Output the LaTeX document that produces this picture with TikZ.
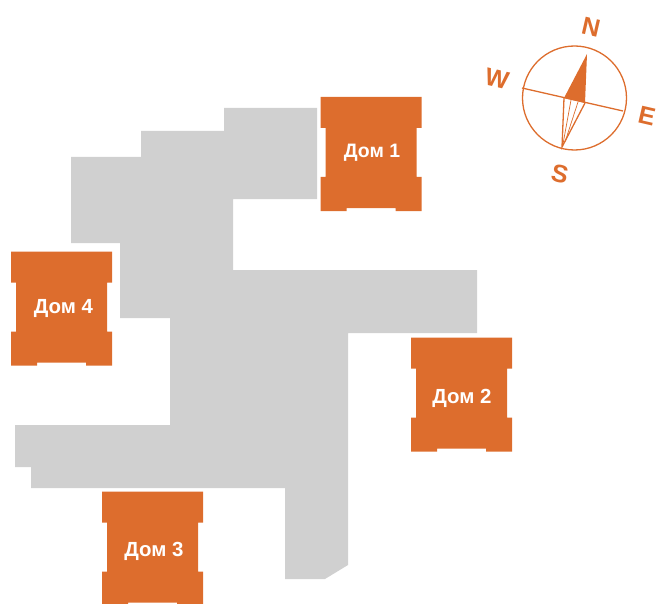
\documentclass[tikz,border=0pt]{standalone}
\usepackage{fontspec}
\setmainfont{Liberation Sans}
\definecolor{brick}{HTML}{DD6D2D}
\definecolor{yard}{HTML}{D0D0D0}
\tikzset{
  x=1bp,y=-1bp,
  bldg/.style={fill=brick,draw=none},
  housetext/.style={text=white,font=\fontsize{20.5}{22}\selectfont\bfseries,inner sep=0pt,anchor=center},
  dir/.style={text=brick,font=\fontsize{25}{27}\selectfont\bfseries,inner sep=0pt,anchor=center,rotate=-13},
  rose/.style={draw=brick,line width=1.3bp},
  fine/.style={draw=brick,line width=0.7bp}
}
\newcommand{\house}[2]{% left, top
  \begin{scope}[shift={(#1,#2)}]
    \fill[bldg] (0,0) -- (101,0) -- (101,31) -- (96,31) -- (96,80) -- (101,80) -- (101,114)
      -- (75,114) -- (75,111) -- (26,111) -- (26,114) -- (0,114) -- (0,80) -- (5,80) -- (5,31) -- (0,31) -- cycle;
  \end{scope}
}
\begin{document}
\begin{tikzpicture}
\useasboundingbox (0,0) rectangle (657,604);
\begin{scope}
\clip (0,0) rectangle (657,604);
\fill[yard] (224,108) -- (317,108) -- (317,199) -- (233,199) -- (233,270) -- (477,270) -- (477,333)
  -- (348,333) -- (348,565) -- (325,579) -- (285,579) -- (285,488) -- (31,488) -- (31,467) -- (15,467)
  -- (15,425) -- (170,425) -- (170,318) -- (120,318) -- (120,243) -- (71,243) -- (71,157) -- (141,157)
  -- (141,131) -- (224,131) -- cycle;
\house{320.5}{97}
\house{411}{337.5}
\house{102}{491.5}
\house{11}{251.5}
\end{scope}
\node[housetext,font=\fontsize{19.5}{21}\selectfont\bfseries] (dom1) at (372,153) {Дом 1};
\node[housetext] (dom2) at (462,398) {Дом 2};
\node[housetext] (dom3) at (154,551) {Дом 3};
\node[housetext] (dom4) at (63.5,309) {Дом 4};
% compass
\coordinate (c) at (574.5,98);
\coordinate (wl) at (522,88);
\coordinate (el) at (623,111);
\coordinate (ntip) at (587,54);
\coordinate (stip) at (562,147);
\coordinate (bl) at (564,98);
\coordinate (br) at (585,103);
\draw[rose] (c) circle[radius=52];
\draw[rose] (wl) -- (el);
\fill[brick] (ntip) -- (bl) -- (br) -- cycle;
\draw[rose] (bl) -- (stip) -- (br);
\draw[fine] (571,100) -- (563,144);
\draw[fine] (578,102) -- (565,142);
\node[dir] (n) at (591,27) {N};
\node[dir] (w) at (497,79) {W};
\node[dir] (e) at (647,116) {E};
\node[dir] (s) at (560,174) {S};
\end{tikzpicture}
\end{document}
